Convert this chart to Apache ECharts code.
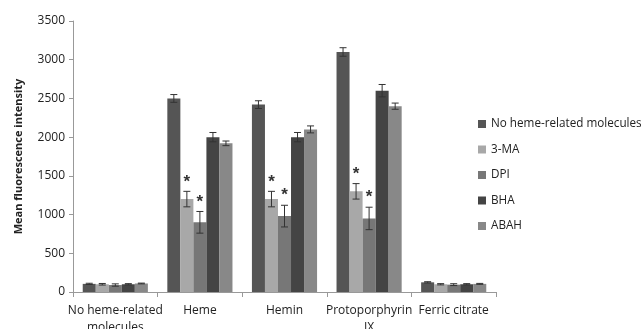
<!DOCTYPE html>
<html><head><meta charset="utf-8">
<script src="https://cdn.jsdelivr.net/npm/echarts@6/dist/echarts.min.js"></script>
<style>html,body{margin:0;padding:0;background:#fff}#c{width:643px;height:329px}</style>
</head><body><div id="c"></div>
<script>
var categories = ['No heme-related\nmolecules', 'Heme', 'Hemin', 'Protoporphyrin\nIX', 'Ferric citrate'];
var seriesNames = ['No heme-related molecules', '3-MA', 'DPI', 'BHA', 'ABAH'];
var colors = ['#555555', '#a8a8a8', '#777777', '#444444', '#888888'];
var valNone = [105, 2500, 2420, 3100, 125];
var val3MA  = [100, 1200, 1200, 1300, 100];
var valDPI  = [90, 900, 980, 950, 95];
var valBHA  = [100, 2000, 2000, 2600, 100];
var valABAH = [110, 1920, 2100, 2400, 105];
var errNone = [8, 50, 50, 55, 8];
var err3MA  = [10, 100, 100, 100, 8];
var errDPI  = [15, 140, 140, 145, 12];
var errBHA  = [8, 60, 60, 80, 8];
var errABAH = [5, 30, 45, 40, 6];
var star3MA = [false, true, true, true, false];
var starDPI = [false, true, true, true, false];
var yTicks = [0, 500, 1000, 1500, 2000, 2500, 3000, 3500];

var values = [valNone, val3MA, valDPI, valBHA, valABAH];
var errors = [errNone, err3MA, errDPI, errBHA, errABAH];
var stars = [null, star3MA, starDPI, null, null];
var gapPct = 0.23;

var series = [];
values.forEach(function (v, i) {
  series.push({
    name: seriesNames[i], type: 'bar', data: v,
    barGap: '0%', barCategoryGap: (gapPct * 100) + '%',
    itemStyle: { color: colors[i] }, z: 2
  });
});
values.forEach(function (v, i) {
  var d = v.map(function (val, k) { return [k, val, errors[i][k], stars[i] && stars[i][k] ? 1 : 0]; });
  series.push({
    type: 'custom', data: d, z: 5, silent: true,
    renderItem: function (params, api) {
      var k = api.value(0), val = api.value(1), e = api.value(2), s = api.value(3);
      var band = api.size([1, 0])[0];
      var bw = band * (1 - gapPct) / 5;
      var c = api.coord([k, val]);
      var x = c[0] + (i - 2) * bw;
      var top = api.coord([k, val + e])[1];
      var bot = api.coord([k, val - e])[1];
      var hw = 3.5;
      var st = { stroke: '#333', lineWidth: 1 };
      var ch = [
        { type: 'line', shape: { x1: x, y1: top, x2: x, y2: bot }, style: st },
        { type: 'line', shape: { x1: x - hw, y1: top, x2: x + hw, y2: top }, style: st },
        { type: 'line', shape: { x1: x - hw, y1: bot, x2: x + hw, y2: bot }, style: st }
      ];
      if (s) {
        ch.push({ type: 'text', style: { text: '*', x: x, y: top - 1, align: 'center', verticalAlign: 'bottom', fill: '#333', font: 'bold 17px "Liberation Sans"' } });
      }
      return { type: 'group', children: ch };
    }
  });
});

var chart = echarts.init(document.getElementById('c'));
chart.setOption({
  animation: false,
  textStyle: { fontFamily: '"Open Sans", "Liberation Sans", sans-serif' },
  legend: {
    data: seriesNames, orient: 'vertical', left: 473, top: 113,
    itemWidth: 8, itemHeight: 8, itemGap: 13.5, icon: 'rect',
    textStyle: { fontSize: 11.7, color: '#222' }
  },
  grid: { left: 73, right: 147, top: 21, bottom: 37, containLabel: false, outerBoundsMode: 'none' },
  xAxis: {
    type: 'category', data: categories,
    axisLine: { lineStyle: { color: '#999' } },
    axisTick: { show: true, length: 5, lineStyle: { color: '#999' } },
    axisLabel: { color: '#222', fontSize: 12, margin: 10, lineHeight: 17, interval: 0 }
  },
  yAxis: {
    type: 'value', min: yTicks[0], max: yTicks[yTicks.length - 1], interval: 500,
    name: 'Mean fluorescence intensity', nameLocation: 'middle', nameGap: 49,
    nameTextStyle: { fontWeight: 'bold', fontSize: 11, color: '#222' },
    axisLine: { show: true, lineStyle: { color: '#999' } },
    axisTick: { show: true, length: 4, lineStyle: { color: '#999' } },
    splitLine: { show: false },
    axisLabel: { color: '#222', fontSize: 12, margin: 8, formatter: function (v) { return String(v); } }
  },
  series: series
});
</script></body></html>
